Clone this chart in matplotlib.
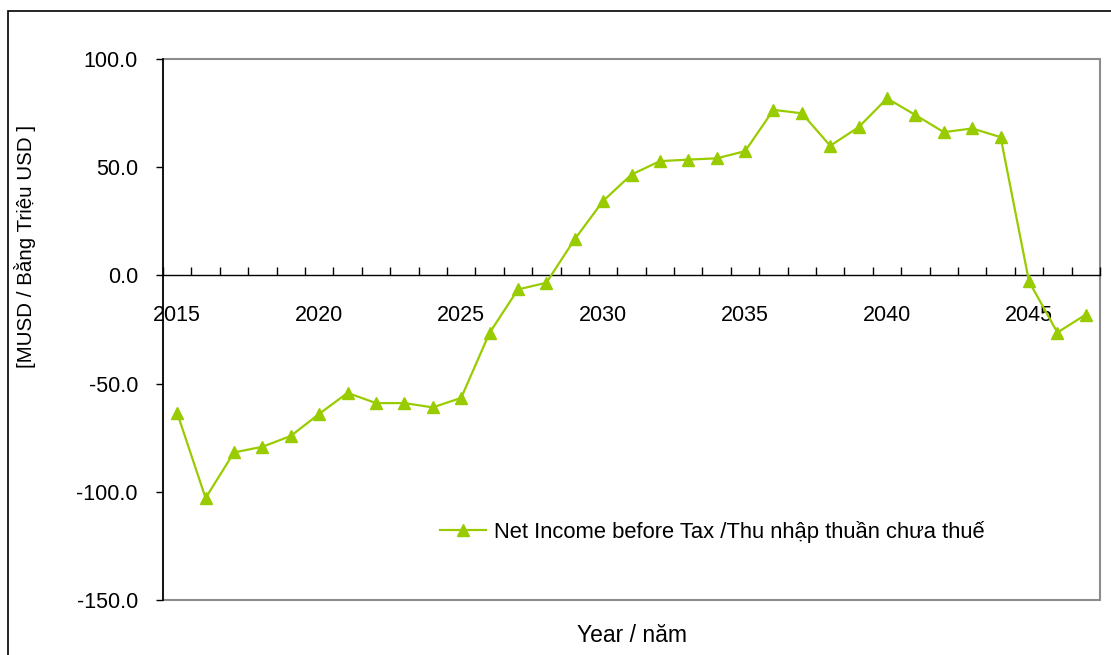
import matplotlib
matplotlib.use("Agg")
import matplotlib.pyplot as plt
from matplotlib.patches import Rectangle
import numpy as np

plt.rcParams['font.family'] = ['Liberation Sans', 'DejaVu Sans']

years = list(range(2015, 2048))
net_income = [-63.6, -102.9, -81.8, -79.2, -74.2, -64.0, -54.3, -59.0, -59.0, -61.0,
              -56.6, -26.6, -6.5, -3.4, 16.7, 34.4, 46.6, 52.8, 53.5, 54.1,
              57.4, 76.5, 74.9, 59.9, 68.5, 81.8, 74.1, 66.2, 67.9, 63.9,
              -2.8, -26.4, -18.1]
year_labels = [2015, 2020, 2025, 2030, 2035, 2040, 2045]
y_ticks = [-150, -100, -50, 0, 50, 100]
series_name = "Net Income before Tax /Thu nhập thuần chưa thuế"

W, H = 1111, 655
fig = plt.figure(figsize=(W / 100, H / 100), dpi=100)
ax = fig.add_axes([163 / W, 1 - 600 / H, (1100 - 163) / W, (600 - 59) / H])

green = '#99CC00'
ax.plot(years, net_income, color=green, lw=1.6, marker='^', ms=9,
        markeredgecolor=green, markerfacecolor=green, label=series_name,
        clip_on=False, zorder=3)

ax.set_xlim(years[0] - 0.5, years[-1] + 0.5)
ax.set_ylim(-150, 100)

# y axis
ax.set_yticks(y_ticks)
ax.set_yticklabels([f"{v:.1f}" for v in y_ticks])
ax.tick_params(axis='y', direction='out', length=5, width=1, pad=13,
               labelsize=15.5, color='black')

# category axis drawn along the zero line
ax.spines['bottom'].set_position(('data', 0))
ax.spines['bottom'].set_color('black')
ax.spines['bottom'].set_linewidth(1)
boundaries = np.arange(years[0] - 0.5, years[-1] + 1.0, 1.0)
ax.set_xticks(boundaries)
ax.set_xticklabels([])
ax.set_xticks(year_labels, minor=True)
ax.set_xticklabels([str(y) for y in year_labels], minor=True)
ax.tick_params(axis='x', which='major', direction='in', length=6, width=1,
               color='black')
ax.tick_params(axis='x', which='minor', length=0, pad=21, labelsize=15.5)

ax.spines['left'].set_color('black')
ax.spines['left'].set_linewidth(1.2)
ax.spines['left'].set_zorder(4)
ax.spines['top'].set_visible(False)
ax.spines['right'].set_visible(False)

# plot-area frame
ax.add_patch(Rectangle((0, 0), 1, 1, transform=ax.transAxes, fill=False,
                       edgecolor='#8c8c8c', lw=1.5, clip_on=False, zorder=0))

ax.set_ylabel("[MUSD / Bằng Triệu USD ]", fontsize=14.8)
ax.yaxis.set_label_coords(-127 / (1100 - 163), (600 - 246) / (600 - 59))
fig.text(632 / W, 1 - 635 / H, "Year / năm", ha='center', va='center',
         fontsize=16.5)

leg = ax.legend(loc='center left', bbox_to_anchor=(440 / W, 1 - 532 / H),
                bbox_transform=fig.transFigure, frameon=False, fontsize=15.8,
                handlelength=2.1, handletextpad=0.35, borderpad=0,
                borderaxespad=0)

# chart border
top = 1 - 11 / H
fig.add_artist(Rectangle((8 / W, -0.2), 1.2, top + 0.2, fill=False,
                         edgecolor='black', lw=1.2, transform=fig.transFigure,
                         clip_on=False))

fig.savefig("out.png", dpi=100, facecolor='white')
